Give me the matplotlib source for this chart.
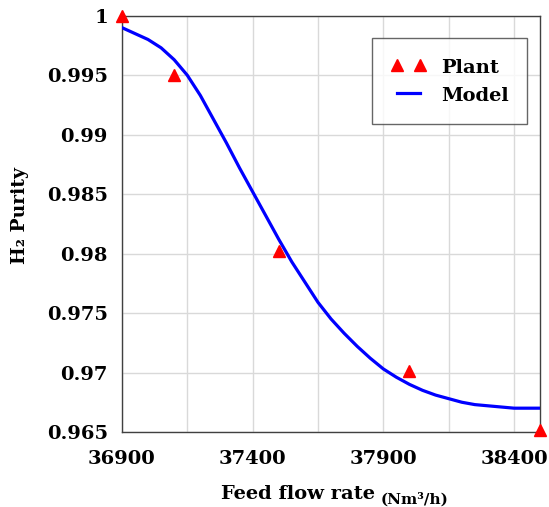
import matplotlib.pyplot as plt
from matplotlib.ticker import FixedLocator, FormatStrFormatter

# Plant measurements
plant_flow = [36900, 37100, 37500, 38000, 38500]
plant_purity = [1.0000, 0.9950, 0.9802, 0.9701, 0.9652]

# Model curve, every 50 Nm3/h
model_flow = [36900, 36950, 37000, 37050, 37100, 37150, 37200, 37250,
              37300, 37350, 37400, 37450, 37500, 37550, 37600, 37650,
              37700, 37750, 37800, 37850, 37900, 37950, 38000, 38050,
              38100, 38150, 38200, 38250, 38300, 38350, 38400, 38450,
              38500]
model_purity = [0.9990, 0.9985, 0.9980, 0.9973, 0.9963, 0.9950, 0.9933,
                0.9913, 0.9893, 0.9872, 0.9852, 0.9832, 0.9812, 0.9793,
                0.9776, 0.9759, 0.9745, 0.9733, 0.9722, 0.9712, 0.9703,
                0.9696, 0.9690, 0.9685, 0.9681, 0.9678, 0.9675, 0.9673,
                0.9672, 0.9671, 0.9670, 0.9670, 0.9670]

x_ticks = [36900, 37400, 37900, 38400]
x_minor = [37150, 37650, 38150]
y_ticks = [0.965, 0.97, 0.975, 0.98, 0.985, 0.99, 0.995, 1.0]

plt.rcParams["font.family"] = ["DejaVu Serif"]
plt.rcParams["font.weight"] = "bold"

fig = plt.figure(figsize=(5.49, 5.07), dpi=100)
ax = fig.add_axes([0.222, 0.148, 0.762, 0.821])

ax.plot(model_flow, model_purity, color="#0000ff", linewidth=2.3,
        label="Model", zorder=3)
ax.plot(plant_flow, plant_purity, linestyle="none", marker="^",
        markersize=8, color="#ff0000", label="Plant", clip_on=False,
        zorder=4)

ax.set_xlim(36900, 38500)
ax.set_ylim(0.965, 1.0)
ax.set_xticks(x_ticks)
ax.xaxis.set_minor_locator(FixedLocator(x_minor))
ax.set_yticks(y_ticks)
ax.yaxis.set_major_formatter(FormatStrFormatter("%g"))
ax.tick_params(which="both", length=0, labelsize=14)
ax.tick_params(axis="x", pad=13)
ax.tick_params(axis="y", pad=10)
for lab in ax.get_xticklabels() + ax.get_yticklabels():
    lab.set_fontweight("bold")

ax.grid(True, which="both", color="#d9d9d9", linewidth=1.0)
ax.set_axisbelow(True)
for spine in ax.spines.values():
    spine.set_color("#404040")
    spine.set_linewidth(1.0)

# x label: main text plus a smaller, lowered unit
xlab = ax.set_xlabel("Feed flow rate", fontsize=14, fontweight="bold")
ax.xaxis.set_label_coords(0.421, -0.149)
xlab.set_verticalalignment("center")
ax.annotate("(Nm³/h)", xy=(1, 0), xycoords=xlab, xytext=(4, -3),
            textcoords="offset points", fontsize=11, fontweight="bold",
            ha="left", va="bottom")

ax.set_ylabel("H₂ Purity", fontsize=13.5, fontweight="bold")
ax.yaxis.set_label_coords(-0.222, 0.52)

handles, labels = ax.get_legend_handles_labels()
leg = ax.legend(handles[::-1], labels[::-1], loc="upper right",
                bbox_to_anchor=(0.969, 0.947), borderaxespad=0,
                numpoints=2, fancybox=False, edgecolor="#404040",
                fontsize=14, borderpad=0.97, handlelength=1.8,
                handleheight=1.1, handletextpad=0.75, labelspacing=0.42)
leg.get_frame().set_linewidth(1.0)
for t in leg.get_texts():
    t.set_fontweight("bold")

fig.savefig("out.png", dpi=100)
